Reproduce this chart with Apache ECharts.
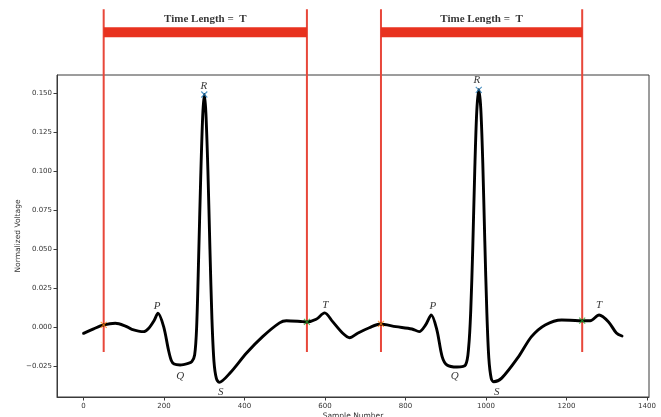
<!DOCTYPE html>
<html>
<head>
<meta charset="utf-8">
<script src="https://cdn.jsdelivr.net/npm/echarts@6/dist/echarts.min.js"></script>
<style>
html,body{margin:0;padding:0;background:#fff;}
#chart{width:661px;height:417px;}
</style>
</head>
<body>
<div id="chart"></div>
<script>
// ECG trace (sample number, normalized voltage)
const sampleIdx = [0, 25, 50, 79, 104, 120, 149, 162, 175, 185, 199, 211, 218, 225, 240, 260, 269, 276, 281, 286, 291, 296, 300, 304, 309, 314, 319, 324, 330, 337,
  364, 405, 445, 487, 504, 544, 555, 578, 599, 619, 644, 661, 681, 710, 737,
  776, 816, 834, 850, 864, 878, 891, 903, 928, 949, 957, 962, 967, 972, 977, 982, 987, 992, 997, 1002, 1007, 1013, 1019,
  1039, 1081, 1113, 1147, 1188, 1230, 1239, 1259, 1281, 1304, 1324, 1338];
const voltage = [-0.0041, -0.0012, 0.0013, 0.0024, 0.0006, -0.0015, -0.0030, -0.0008, 0.0040, 0.0088, 0.0002, -0.0148, -0.0215, -0.0238, -0.0244, -0.0234, -0.0223, -0.0180, 0.0000, 0.0450, 0.0950, 0.1350, 0.1490, 0.1370, 0.1000, 0.0500, 0.0050, -0.0220, -0.0330, -0.0355,
  -0.0295, -0.0167, -0.0062, 0.0026, 0.0040, 0.0034, 0.0032, 0.0049, 0.0090, 0.0034, -0.0040, -0.0069, -0.0040, -0.0005, 0.0019,
  0.0002, -0.0013, -0.0030, 0.0013, 0.0077, -0.0020, -0.0190, -0.0244, -0.0257, -0.0244, -0.0127, 0.0100, 0.0500, 0.1000, 0.1380, 0.1520, 0.1400, 0.1050, 0.0550, 0.0100, -0.0200, -0.0330, -0.0351,
  -0.0328, -0.0190, -0.0062, 0.0013, 0.0045, 0.0040, 0.0040, 0.0040, 0.0077, 0.0034, -0.0039, -0.0058];

// window boundaries (sample numbers) and markers
const windowStarts = [50, 739];
const windowEnds = [555, 1239];
const startMarkY = [0.0013, 0.0020];
const endMarkY = [0.0032, 0.0040];
const rPeakX = [300, 982];
const rPeakY = [0.1490, 0.1520];

// wave labels
const waveNames = ['P', 'Q', 'R', 'S', 'T', 'P', 'Q', 'R', 'S', 'T'];
const waveLabelX = [183, 240, 299, 341, 601, 868, 922, 977, 1027, 1281];
const waveLabelY = [0.0135, -0.0315, 0.1545, -0.0415, 0.0140, 0.0135, -0.0315, 0.1585, -0.0415, 0.0140];

// annotation extents
const lineBottom = -0.016;
const lineTop = 0.2036;
const barY = 0.1889;
const titleY = 0.1974;
const titleText = 'Time Length =  T';

const xTicks = [0, 200, 400, 600, 800, 1000, 1200, 1400];
const yTicks = [-0.025, 0, 0.025, 0.05, 0.075, 0.1, 0.125, 0.15];

const chart = echarts.init(document.getElementById('chart'), null, {renderer: 'canvas'});

const ecg = sampleIdx.map((x, i) => [x, voltage[i]]);
const series = [];

const redLine = '#e8473a';
const redBar = '#e8321f';

windowStarts.forEach((s, i) => {
  const e = windowEnds[i];
  [s, e].forEach(x => {
    series.push({type: 'line', clip: false, silent: true, symbol: 'none', z: 1,
      data: [[x, lineBottom], [x, lineTop]], lineStyle: {color: redLine, width: 2}});
  });
  series.push({type: 'line', clip: false, silent: true, symbol: 'none', z: 1,
    data: [[s, barY], [e, barY]], lineStyle: {color: redBar, width: 10, cap: 'butt'}});
});

series.push({type: 'line', data: ecg, smooth: 0.3, symbol: 'none', z: 3,
  lineStyle: {color: '#000', width: 2.9, join: 'round', cap: 'round'}});

const xPath = 'path://M0,0L10,10M10,0L0,10';
function markerSeries(xs, ys, color) {
  return {type: 'scatter', symbol: xPath, symbolSize: 6, z: 5,
    data: xs.map((x, i) => [x, ys[i]]),
    itemStyle: {color: 'rgba(0,0,0,0)', borderColor: color, borderWidth: 1.1}};
}
series.push(markerSeries(windowStarts, startMarkY, '#ff7f0e'));
series.push(markerSeries(windowEnds, endMarkY, '#2ca02c'));
series.push(markerSeries(rPeakX, rPeakY, '#1f77b4'));

series.push({type: 'scatter', symbolSize: 0, z: 6,
  data: waveNames.map((n, i) => ({name: n, value: [waveLabelX[i], waveLabelY[i]]})),
  label: {show: true, position: 'inside', formatter: p => p.name,
    fontFamily: 'Liberation Serif', fontStyle: 'italic', fontSize: 11, color: '#000'}});

series.push({type: 'scatter', symbolSize: 0, z: 6, clip: false,
  data: windowStarts.map((s, i) => ({name: titleText, value: [(s + windowEnds[i]) / 2, titleY]})),
  label: {show: true, position: 'inside', formatter: p => p.name,
    fontFamily: 'Liberation Serif', fontWeight: 'bold', fontSize: 11, color: '#000'}});

const option = {
  backgroundColor: '#ffffff',
  animation: false,
  grid: {left: 57, right: 12, top: 75, bottom: 20, show: true, borderColor: '#3a3a3a', borderWidth: 1, backgroundColor: 'transparent',
    containLabel: false, outerBoundsMode: 'none'},
  xAxis: {
    type: 'value', min: -66, max: 1405,
    name: 'Sample Number', nameLocation: 'middle', nameGap: 15, nameMoveOverlap: false,
    nameTextStyle: {fontFamily: 'DejaVu Sans', fontSize: 7.5, color: '#333'},
    axisLine: {show: true, onZero: false, lineStyle: {color: '#3a3a3a', width: 1}},
    axisTick: {show: true, length: 3.5, lineStyle: {color: '#3a3a3a'}, customValues: xTicks},
    axisLabel: {fontFamily: 'DejaVu Sans', fontSize: 7, color: '#333', margin: 6, customValues: xTicks, formatter: v => String(v)},
    splitLine: {show: false}
  },
  yAxis: {
    type: 'value', min: -0.0449, max: 0.1615,
    name: 'Normalized Voltage', nameLocation: 'middle', nameGap: 35, nameRotate: 90, nameMoveOverlap: false,
    nameTextStyle: {fontFamily: 'DejaVu Sans', fontSize: 7.5, color: '#333'},
    axisLine: {show: true, onZero: false, lineStyle: {color: '#3a3a3a', width: 1}},
    axisTick: {show: true, length: 3.5, lineStyle: {color: '#3a3a3a'}, customValues: yTicks},
    axisLabel: {fontFamily: 'DejaVu Sans', fontSize: 7, color: '#333', margin: 5, customValues: yTicks,
      formatter: v => (v < 0 ? '\u2212' : '') + Math.abs(v).toFixed(3)},
    splitLine: {show: false}
  },
  series: series
};
chart.setOption(option);
</script>
</body>
</html>
